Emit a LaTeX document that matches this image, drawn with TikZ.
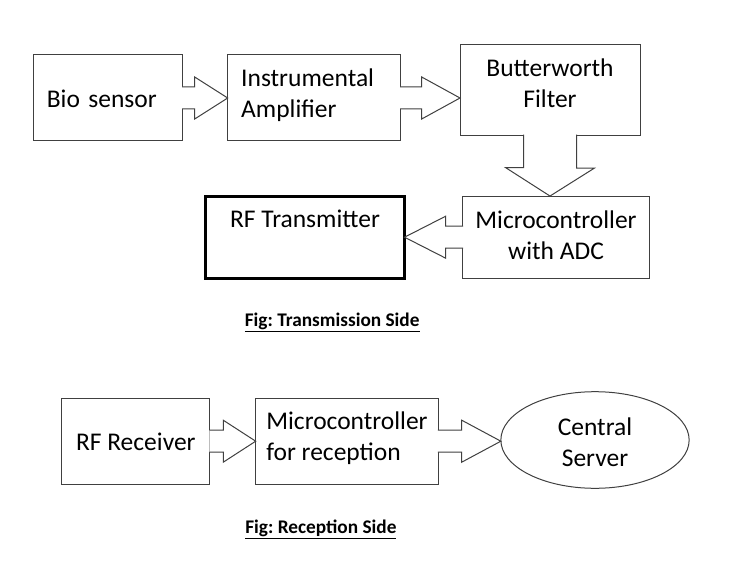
\documentclass[tikz,border=0pt]{standalone}
\usepackage{fontspec}
\setmainfont{Carlito}
\usetikzlibrary{calc,shapes.geometric}
\frenchspacing

\newcommand{\blockfont}{\fontsize{25.5}{31}\selectfont}
\newcommand{\figcapfont}{\fontsize{19.3}{23}\selectfont\bfseries}
\newcommand{\harrow}[3]{%
    \draw[blockarrow] ($(#1)!-0.5pt!(#2)+(0,-11)$) -- ($(#1)+(#3,-11)$) -- ($(#1)+(#3,-21)$) -- (#2)
        -- ($(#1)+(#3,21)$) -- ($(#1)+(#3,11)$) -- ($(#1)!-0.5pt!(#2)+(0,11)$);
}

\begin{document}
\begin{tikzpicture}
    [
        x=1pt, y=-1pt,
        box/.style={draw=black!75, line width=1pt, rectangle, outer sep=0pt, inner sep=0pt, font=\blockfont, align=center},
        leftbox/.style={box, align=left, inner xsep=13.5pt, text width=#1},
        blockarrow/.style={draw=black!75, line width=1pt, fill=white, line join=miter},
        caption/.style={anchor=base, font=\figcapfont}
    ]
    \useasboundingbox (0,0) rectangle (741,577);

    \node[leftbox=122.4pt, minimum width=149.4pt, minimum height=86pt, text height=20pt, text depth=0.6pt] (bio) at (108,98) {Bio sensor};
    \node[leftbox=146pt, minimum width=173pt, minimum height=86pt, text height=21pt, text depth=44pt] (amp) at (314.2,98) {Instrumental\\Amplifier};
    \node[box, minimum width=180pt, minimum height=90.7pt, text height=40.6pt, text depth=4pt] (filter) at (550,89.7) {Butterworth\\Filter};
    \node[box, minimum width=186.6pt, minimum height=82.3pt, text height=49pt, text depth=4pt] (adc) at (556,237.2) {Microcontroller\\with ADC};
    \node[box, draw=black, line width=2.5pt, minimum width=199pt, minimum height=82pt, text height=16pt, text depth=36pt] (tx) at (305,237.3) {RF Transmitter};

    \harrow{bio.east}{bio.east -| amp.west}{12}
    \harrow{amp.east}{amp.east -| filter.west}{21}
    \draw[blockarrow] ($(filter.south)+(-26.5,-0.5)$) -- ++(0,33) -- ++(-18,0) -- (filter.south |- adc.north)
        -- ($(filter.south)+(44.5,33)$) -- ++(-18,0) -- ($(filter.south)+(26.5,-0.5)$);
    \harrow{adc.west}{adc.west -| tx.east}{-17}

    \node[caption] (txcap) at (332.2,326.7) {\underline{Fig: Transmission Side}};

    \node[box, minimum width=148.3pt, minimum height=85.7pt, text height=18pt, text depth=0.4pt] (rx) at (135.8,441.2) {RF Receiver};
    \node[box, align=left, minimum width=182.6pt, minimum height=85.7pt, text height=42pt, text depth=4pt] (mcu) at (347,441.2) {Microcontroller\\for reception};
    \node[box, ellipse, minimum width=188.3pt, minimum height=96.6pt, text height=57pt, text depth=4pt] (server) at (595,440) {Central\\Server};

    \harrow{rx.east}{rx.east -| mcu.west}{13.3}
    \harrow{mcu.east}{mcu.east -| server.west}{23.4}

    \node[caption] (rxcap) at (320.9,533.3) {\underline{Fig: Reception Side}};
\end{tikzpicture}
\end{document}
